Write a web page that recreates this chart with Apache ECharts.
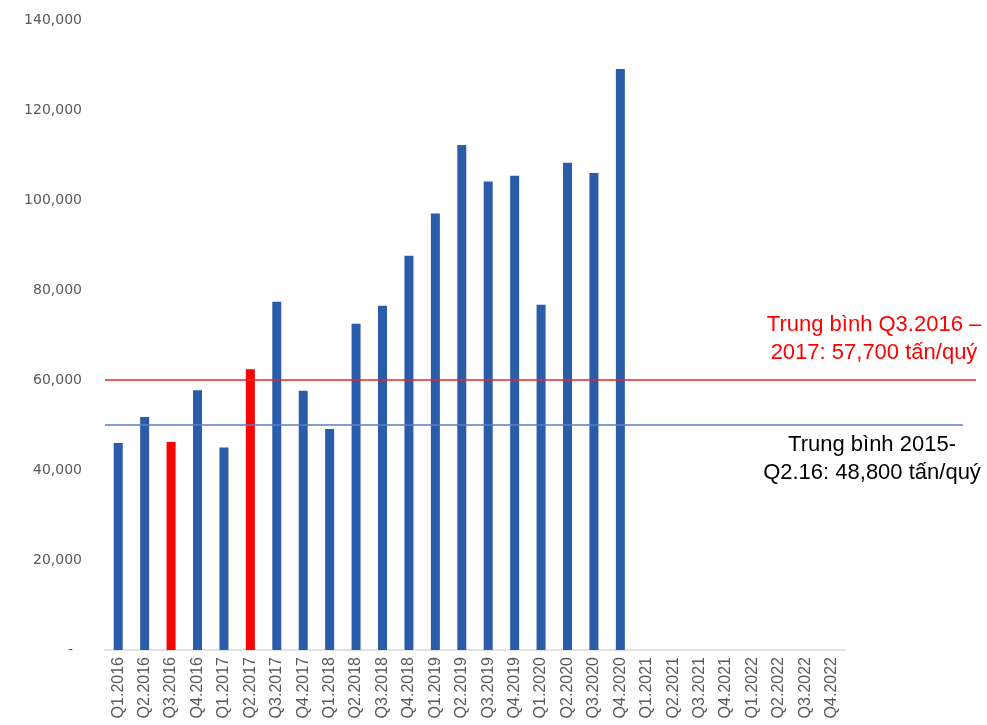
<!DOCTYPE html>
<html>
<head>
<meta charset="utf-8">
<script src="https://cdn.jsdelivr.net/npm/echarts@6/dist/echarts.min.js"></script>
<style>
  html, body { margin: 0; padding: 0; background: #fff; }
  #main { width: 987px; height: 725px; }
</style>
</head>
<body>
<div id="main"></div>
<script>
  // quý
  const quarters = [
    'Q1.2016', 'Q2.2016', 'Q3.2016', 'Q4.2016',
    'Q1.2017', 'Q2.2017', 'Q3.2017', 'Q4.2017',
    'Q1.2018', 'Q2.2018', 'Q3.2018', 'Q4.2018',
    'Q1.2019', 'Q2.2019', 'Q3.2019', 'Q4.2019',
    'Q1.2020', 'Q2.2020', 'Q3.2020', 'Q4.2020',
    'Q1.2021', 'Q2.2021', 'Q3.2021', 'Q4.2021',
    'Q1.2022', 'Q2.2022', 'Q3.2022', 'Q4.2022'
  ];
  // tấn/quý, chưa có số liệu từ 2021
  const volumes = [
    46000, 51800, 46200, 57700,
    45000, 62400, 77400, 57600,
    49100, 72500, 76500, 87600,
    97000, 112200, 104100, 105400,
    76700, 108300, 106000, 129100,
    null, null, null, null,
    null, null, null, null
  ];
  const highlighted = ['Q3.2016', 'Q2.2017'];
  const yTicks = [0, 20000, 40000, 60000, 80000, 100000, 120000, 140000];

  // duong trung binh: [x bat dau, x ket thuc] tren truc 0..1, muc y
  const redAvg = [[0, 60000], [1, 60000]];
  const blueAvg = [[0, 50000], [0.985, 50000]];

  const myChart = echarts.init(document.getElementById('main'));

  const option = {
    animation: false,
    grid: [
      { left: 105, right: 142, top: 20, bottom: 75 },
      { left: 105, right: 11, top: 20, bottom: 75 }
    ],
    xAxis: [
      {
        type: 'category',
        gridIndex: 0,
        data: quarters,
        axisLine: { lineStyle: { color: '#d9d9d9', width: 1.5 } },
        axisTick: { show: false },
        axisLabel: {
          interval: 0,
          rotate: 90,
          margin: 7,
          color: '#595959',
          fontSize: 16,
          fontFamily: 'Liberation Sans'
        }
      },
      { type: 'value', gridIndex: 1, min: 0, max: 1, show: false }
    ],
    yAxis: [
      {
        type: 'value',
        gridIndex: 0,
        min: yTicks[0],
        max: yTicks[yTicks.length - 1],
        interval: 20000,
        splitLine: { show: false },
        axisLine: { show: false },
        axisTick: { show: false },
        axisLabel: {
          margin: 23,
          color: '#595959',
          fontSize: 14,
          fontFamily: 'DejaVu Sans',
          formatter: v => v === 0 ? '-  ' : v.toLocaleString('en-US')
        }
      },
      { type: 'value', gridIndex: 1, min: 0, max: 140000, show: false }
    ],
    series: [
      {
        type: 'bar',
        xAxisIndex: 0,
        yAxisIndex: 0,
        barWidth: 9,
        itemStyle: { color: '#2b5ca9' },
        data: volumes.map((v, i) => ({
          value: v,
          itemStyle: highlighted.includes(quarters[i]) ? { color: '#ff0000' } : undefined
        }))
      },
      {
        type: 'line',
        xAxisIndex: 1,
        yAxisIndex: 1,
        symbol: 'none',
        lineStyle: { color: '#e8262a', width: 1.3 },
        data: redAvg,
        z: 3
      },
      {
        type: 'line',
        xAxisIndex: 1,
        yAxisIndex: 1,
        symbol: 'none',
        lineStyle: { color: '#5a7fc0', width: 1.5 },
        data: blueAvg,
        z: 3
      }
    ],
    graphic: [
      {
        type: 'text',
        x: 874,
        y: 311,
        style: {
          text: 'Trung bình Q3.2016 –\n2017: 57,700 tấn/quý',
          align: 'center',
          verticalAlign: 'top',
          fill: '#ff0000',
          font: '22px "Liberation Sans"',
          lineHeight: 28
        }
      },
      {
        type: 'text',
        x: 872,
        y: 431,
        style: {
          text: 'Trung bình 2015-\nQ2.16: 48,800 tấn/quý',
          align: 'center',
          verticalAlign: 'top',
          fill: '#000000',
          font: '22px "Liberation Sans"',
          lineHeight: 28
        }
      }
    ]
  };
  option && myChart.setOption(option);
</script>
</body>
</html>
